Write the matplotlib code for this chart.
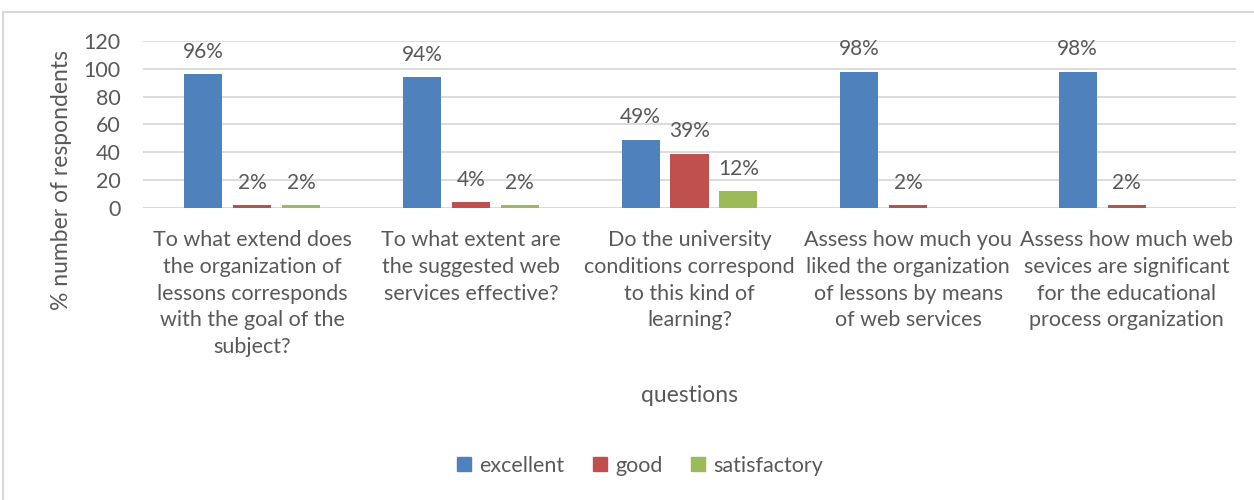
import matplotlib
matplotlib.use("Agg")
import matplotlib.pyplot as plt
from matplotlib.lines import Line2D
import numpy as np

categories = [
    "To what extend does\nthe organization of\nlessons corresponds\nwith the goal of the\nsubject?",
    "To what extent are\nthe suggested web\nservices effective?",
    "Do the university\nconditions correspond\nto this kind of\nlearning?",
    "Assess how much you\nliked the organization\nof lessons by means\nof web services",
    "Assess how much web\nsevices are significant\nfor the educational\nprocess organization",
]
series_names = ["excellent", "good", "satisfactory"]
excellent = [96, 94, 49, 98, 98]
good = [2, 4, 39, 2, 2]
satisfactory = [2, 2, 12, None, None]
yticks = [0, 20, 40, 60, 80, 100, 120]

colors = ["#4F81BD", "#C0504D", "#9BBB59"]
text_color = "#595959"
grid_color = "#D9D9D9"

plt.rcParams['font.family'] = ['Lato', 'DejaVu Sans']

fig = plt.figure(figsize=(12.54, 5.0), dpi=100)
ax = fig.add_axes([143/1254, 1-208/500, (1236-143)/1254, (208-41)/500])

x = np.arange(len(categories))
width = 0.174
offsets = [-0.224, 0.0, 0.224]
all_series = [excellent, good, satisfactory]
handles = []
for s, (vals, off, col, name) in enumerate(zip(all_series, offsets, colors, series_names)):
    for i, v in enumerate(vals):
        if v is None:
            continue
        ax.bar(x[i] + off, v, width, color=col, zorder=3)
        ax.annotate(f"{v}%", (x[i] + off, v), xytext=(0, 9), textcoords="offset points",
                    ha="center", va="bottom", fontsize=15, color=text_color)
    handles.append(Line2D([], [], marker="s", linestyle="none", markersize=9.5,
                          markerfacecolor=col, markeredgecolor=col, label=name))

ax.set_xlim(-0.5, len(categories) - 0.5)
ax.set_ylim(0, 120)
ax.set_yticks(yticks)
ax.set_yticklabels([str(t) for t in yticks], fontsize=15.5, color=text_color)
ax.set_xticks(x)
ax.set_xticklabels(categories, fontsize=15.5, color=text_color, linespacing=1.42)
ax.tick_params(axis="x", length=0, pad=16)
ax.tick_params(axis="y", length=0, pad=16)
ax.yaxis.grid(True, color=grid_color, linewidth=1.3, zorder=0)
ax.set_axisbelow(True)
for sp in ax.spines.values():
    sp.set_visible(False)
ax.axhline(0, color=grid_color, linewidth=1.3, zorder=1)

fig.text(62/1254, 1-180/500, "% number of respondents", rotation=90, ha="center", va="center",
         fontsize=16.5, color=text_color)
fig.text(690/1254, 1-396/500, "questions", ha="center", va="center", fontsize=16.5, color=text_color)

leg = fig.legend(handles=handles, loc="center", bbox_to_anchor=(640/1254, 1-466/500), ncol=3,
                 frameon=False, fontsize=15.5, handlelength=0.7, handletextpad=0.35,
                 columnspacing=1.3)
for t in leg.get_texts():
    t.set_color(text_color)

fig.add_artist(Line2D([3/1254, 1], [1-12/500, 1-12/500], color=grid_color, linewidth=1.5,
                      transform=fig.transFigure))
fig.add_artist(Line2D([3/1254, 3/1254], [0, 1-12/500], color=grid_color, linewidth=1.5,
                      transform=fig.transFigure))

fig.savefig("out.png", dpi=100)
